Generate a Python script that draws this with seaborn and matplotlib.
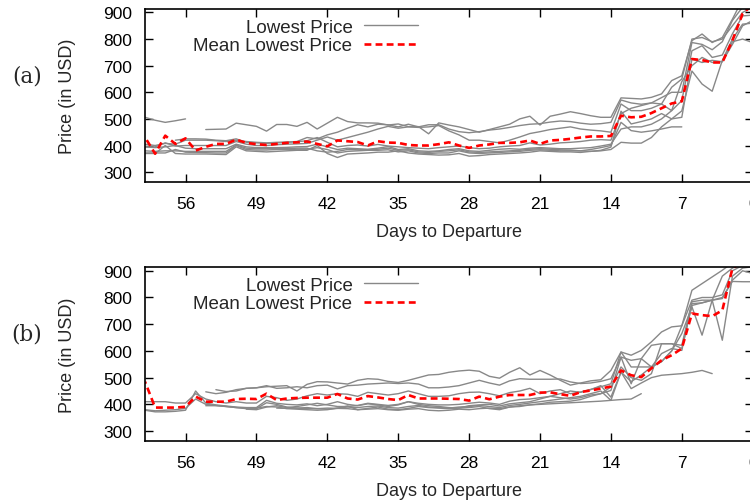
"""
Lowest price vs. days to departure, two panels (a) and (b).
Gray = lowest price per query series, red dashed = mean lowest price.
"""
import numpy as np
import pandas as pd
import matplotlib
matplotlib.use('Agg')
import matplotlib.pyplot as plt
import seaborn as sns
from matplotlib.lines import Line2D

nan = np.nan

# days 60 .. 0 (rows of 10 values: 60-51, 50-41, 40-31, 30-21, 20-11, 10-1, 0)
DAYS = list(range(60, -1, -1))
X_TICKS = [56, 49, 42, 35, 28, 21, 14, 7, 0]
Y_TICKS = [300, 400, 500, 600, 700, 800, 900]

# ---------------- panel (a) ----------------
a_mean = [431, 369, 437, 406, 427, 381, 395, 406, 406, 422,
          410, 405, 402, 406, 410, 412, 415, 406, 397, 419,
          416, 413, 400, 416, 411, 410, 402, 400, 400, 405,
          412, 400, 391, 400, 404, 410, 410, 412, 419, 406,
          419, 421, 425, 430, 434, 434, 436, 512, 506, 508,
          522, 540, 558, 566, 725, 721, 712, 712, 795, 895,
          930]

a_lowest = {
    'a1': [506, 495, 487, 493, 500, nan, 460, 461, 462, 484,
           478, 472, 454, 479, 479, 472, 487, 462, 484, 506,
           490, 485, 485, 484, 477, 481, 471, 471, 444, 485,
           477, 470, 460, 450, 460, 470, 480, 500, 510, 477,
           510, 518, 527, 520, 512, 506, 506, 579, 577, 575,
           581, 594, 644, 662, 794, 819, 787, 806, 875, 950,
           960],
    'a2': [405, 400, 408, 405, 420, 420, 420, 418, 415, 420,
           415, 412, 410, 412, 413, 415, 430, 425, 440, 450,
           465, 478, 470, 480, 478, 470, 480, 470, 478, 478,
           462, 452, 448, 452, 458, 462, 468, 475, 480, 482,
           488, 492, 490, 484, 480, 482, 487, 571, 560, 555,
           560, 556, 619, 650, 800, 806, 790, 800, 850, 900,
           920],
    'a3': [395, 395, 410, 398, 400, 400, 400, 400, 400, 415,
           405, 400, 400, 403, 405, 406, 408, 420, 432, 420,
           430, 440, 450, 462, 472, 465, 470, 468, 470, 475,
           455, 440, 420, 420, 415, 410, 420, 432, 445, 452,
           460, 465, 470, 462, 458, 455, 450, 556, 531, 531,
           540, 556, 531, 640, 700, 731, 712, 715, 780, 850,
           870],
    'b1': [370, 370, 400, 370, 368, 368, 368, 367, 366, 395,
           380, 378, 376, 378, 380, 382, 382, 400, 370, 355,
           368, 370, 372, 375, 375, 380, 372, 368, 366, 364,
           365, 370, 360, 362, 366, 368, 370, 372, 375, 380,
           378, 376, 376, 374, 378, 382, 394, 529, 481, 490,
           500, 520, 500, 530, 680, 631, 604, 720, 800, 856,
           860],
    'b2': [372, 372, 372, 385, 375, 374, 373, 372, 372, 400,
           385, 383, 383, 385, 385, 386, 386, 392, 385, 372,
           378, 380, 382, 382, 384, 376, 380, 372, 370, 372,
           372, 380, 372, 370, 372, 374, 376, 378, 382, 384,
           382, 380, 380, 380, 385, 392, 400, 487, 456, 450,
           455, 462, 470, 470, nan, nan, nan, nan, nan, nan,
           nan],
    'b3': [395, 392, 395, 400, 390, 388, 388, 388, 388, 405,
           395, 392, 392, 392, 393, 395, 396, 405, 395, 385,
           390, 388, 386, 390, 396, 385, 388, 380, 378, 380,
           385, 388, 380, 378, 382, 386, 388, 386, 390, 392,
           390, 388, 388, 390, 392, 398, 405, 462, 470, 470,
           480, 500, 531, 569, 756, 775, 731, 740, 820, 887,
           890],
    'b4': [380, 378, 380, 380, 378, 378, 378, 378, 378, 402,
           390, 388, 388, 388, 388, 390, 390, 380, 375, 378,
           385, 384, 384, 386, 390, 382, 384, 376, 374, 378,
           380, 384, 376, 374, 376, 378, 380, 382, 386, 388,
           386, 384, 383, 380, 378, 380, 385, 412, 409, 409,
           430, 470, 500, 506, 725, 712, 720, 715, 790, 800,
           787],
    'b5': [nan, nan, nan, 420, 425, 425, 424, 420, 418, 425,
           412, 410, 408, 410, 412, 414, 418, 430, 412, 395,
           400, 402, 398, 404, 398, 395, 392, 390, 388, 392,
           395, 398, 392, 388, 390, 395, 398, 400, 410, 402,
           405, 410, 412, 415, 420, 422, 420, 520, 540, 550,
           560, 580, 600, 600, 787, 780, 760, 790, 870, 920,
           940],
}

# ---------------- panel (b) ----------------
b_mean = [485, 388, 388, 388, 391, 429, 410, 410, 410, 420,
          421, 420, 440, 416, 422, 424, 425, 425, 425, 439,
          422, 418, 431, 426, 420, 416, 435, 422, 422, 422,
          421, 420, 414, 429, 419, 429, 435, 435, 435, 444,
          445, 438, 432, 446, 452, 459, 467, 527, 509, 502,
          535, 565, 584, 609, 740, 734, 730, 752, 910, 930,
          930]

b_lowest = {
    'p1': [nan, nan, nan, nan, nan, nan, 447, 440, 445, 455,
           460, 462, 466, 468, 470, 450, 475, 485, 484, 480,
           476, 490, 496, 494, 486, 482, 490, 500, 510, 512,
           520, 525, 528, 524, 505, 498, 520, 537, 510, 527,
           510, 490, 472, 480, 488, 492, 527, 596, 584, 602,
           634, 671, 690, 694, 827, 852, 877, 902, 930, 940,
           950],
    'p2': [nan, nan, nan, nan, nan, nan, nan, 455, 448, 450,
           460, 462, 470, 460, 462, 466, 462, 470, 472, 458,
           470, 472, 476, 478, 480, 478, 480, 476, 462, 462,
           465, 470, 480, 490, 480, 472, 488, 496, 494, 494,
           494, 495, 484, 478, 480, 486, 496, 577, 565, 571,
           621, 627, 627, 621, 784, 790, 790, 796, 865, 900,
           890],
    'p3': [410, 410, 410, 405, 405, 440, 420, 410, 405, 410,
           405, 405, 430, 425, 415, 420, 432, 440, 435, 440,
           438, 430, 445, 440, 435, 440, 450, 440, 430, 430,
           432, 440, 445, 446, 440, 432, 444, 450, 460, 440,
           450, 455, 440, 446, 456, 466, 477, 596, 540, 540,
           540, 590, 609, 602, 777, 780, 790, 880, 910, 930,
           940],
    'p4': [378, 372, 372, 374, 378, 450, 405, 398, 394, 390,
           388, 388, 415, 404, 400, 398, 402, 395, 400, 410,
           400, 395, 402, 398, 392, 398, 410, 400, 395, 392,
           388, 386, 395, 398, 400, 394, 402, 406, 410, 420,
           430, 425, 420, 425, 435, 440, 452, 577, 477, 571,
           540, 560, 600, 665, 765, 659, 790, 800, 860, 859,
           859],
    'p5': [nan, nan, nan, nan, nan, nan, 395, 395, 392, 388,
           384, 384, 406, 400, 390, 386, 384, 384, 386, 385,
           394, 380, 385, 390, 382, 380, 385, 392, 388, 386,
           384, 386, 388, 392, 384, 380, 390, 392, 398, 402,
           408, 410, 412, 418, 430, 440, 465, 540, 500, 490,
           515, 627, 627, 609, 770, 780, 790, 640, 880, 910,
           915],
    'p6': [nan, nan, nan, nan, nan, nan, nan, nan, nan, nan,
           382, 380, 390, 395, 388, 392, 398, 404, 398, 392,
           392, 396, 404, 400, 396, 400, 410, 404, 400, 398,
           398, 400, 404, 408, 405, 400, 412, 418, 420, 425,
           430, 440, 450, 445, 455, 470, 427, 521, 459, 480,
           500, 509, 512, 515, 520, 527, 515, nan, nan, nan,
           nan],
    'p7': [nan, nan, nan, nan, nan, nan, nan, nan, nan, nan,
           nan, nan, nan, 386, 385, 386, 388, 384, 382, 385,
           384, 380, 382, 384, 380, 378, 382, 384, 378, 376,
           378, 382, 380, 384, 386, 384, 390, 395, 398, 400,
           402, 404, 406, 408, 410, 412, 415, 418, 420, 440,
           nan, nan, nan, nan, nan, nan, nan, nan, nan, nan,
           nan],
    'p8': [380, 376, 378, 380, 385, 420, 400, 396, 392, 388,
           386, 386, 392, 390, 384, 382, 380, 378, 380, 386,
           390, 388, 392, 394, 388, 386, 392, 396, 390, 388,
           386, 390, 392, 396, 392, 388, 396, 400, 405, 410,
           415, 420, 425, 430, 440, 450, 415, 521, 485, 510,
           540, 560, 600, 694, 790, 800, 800, 810, 900, 920,
           930],
}


def to_long(series):
    """Long table, one 'unit' per contiguous run (NaN breaks the line)."""
    rows = []
    for name, vals in series.items():
        seg = 0
        for d, v in zip(DAYS, vals):
            if np.isnan(v):
                seg += 1
                continue
            rows.append((d, v, f'{name}_{seg}'))
    return pd.DataFrame(rows, columns=['day', 'price', 'unit'])


sns.set_theme(style='ticks')
plt.rcParams['font.family'] = ['Liberation Sans', 'DejaVu Sans']

GRAY = '#888888'
RED = '#ff0000'
FS = 12.5

fig = plt.figure(figsize=(7.5, 5.02), dpi=100)
W, H = 750.0, 502.0

panels = [
    ('(a)', a_lowest, a_mean, 10.0, 182.7),
    ('(b)', b_lowest, b_mean, 268.3, 441.7),
]

for tag, lowest, mean, top_px, bot_px in panels:
    ax = fig.add_axes([145 / W, 1 - bot_px / H, (752.7 - 145) / W, (bot_px - top_px) / H])
    df = to_long(lowest)
    sns.lineplot(data=df, x='day', y='price', units='unit', estimator=None,
                 color=GRAY, linewidth=1.0, ax=ax, legend=False)
    sns.lineplot(x=DAYS, y=mean, color=RED, linewidth=1.9,
                 linestyle=(0, (2.6, 1.6)), ax=ax, legend=False)

    ax.set_xlim(60, 0)
    ax.set_ylim(264, 913)
    ax.set_xticks(X_TICKS)
    ax.set_yticks(Y_TICKS)
    ax.tick_params(direction='in', length=5.5, width=1.0, top=True, right=True,
                   labelsize=FS, colors='black')
    ax.tick_params(axis='y', pad=9)
    ax.tick_params(axis='x', pad=10)
    for sp in ax.spines.values():
        sp.set_linewidth(1.2)
        sp.set_color('black')
    ax.set_xlabel('Days to Departure', fontsize=FS + 0.5, labelpad=9)
    ax.set_ylabel('Price (in USD)', fontsize=FS + 0.5, labelpad=20)

    handles = [Line2D([], [], color=GRAY, linewidth=1.0),
               Line2D([], [], color=RED, linewidth=1.9, linestyle=(0, (2.6, 1.6)))]
    ax.legend(handles, ['Lowest Price', 'Mean Lowest Price'],
              loc='center right', bbox_to_anchor=(418 / W, 1 - (top_px + 27.3) / H),
              bbox_transform=fig.transFigure, frameon=False, markerfirst=False,
              fontsize=FS + 1.0, handlelength=2.9, handletextpad=0.6,
              labelspacing=0.08, borderpad=0, borderaxespad=0)

    fig.text(27 / W, 1 - (top_px + 66) / H, tag, family='DejaVu Serif',
             fontsize=15.5, ha='center', va='center')

fig.savefig('out.png', dpi=100)
